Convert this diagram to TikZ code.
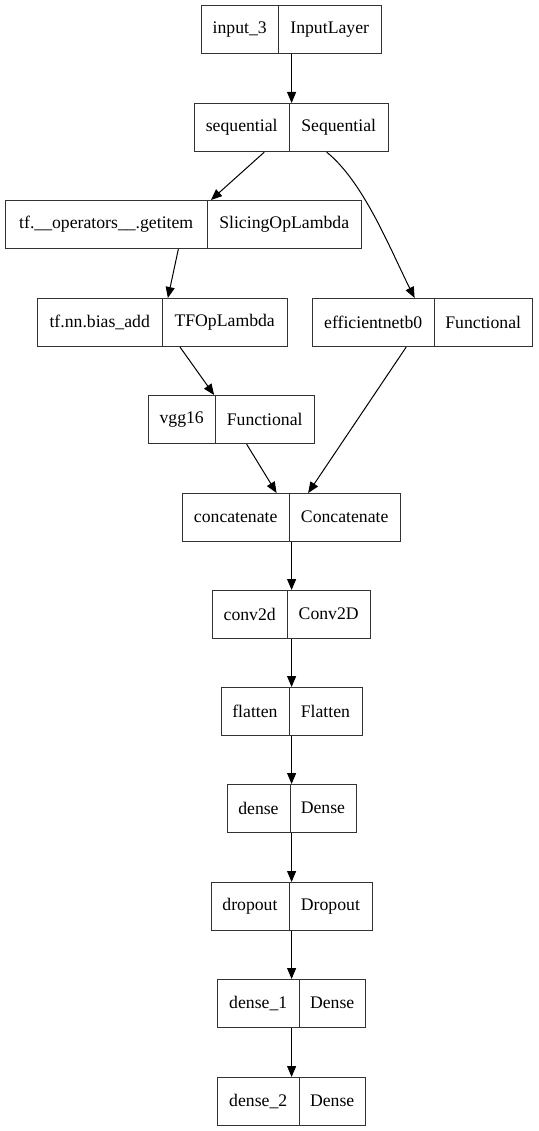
\documentclass[tikz,border=0pt]{standalone}
\usepackage{fontspec}
\setmainfont{Liberation Serif}
\usetikzlibrary{arrows.meta}

\begin{document}
\begin{tikzpicture}[
        x=1pt, y=-1pt,
        layer/.style={draw=black!80, line width=1.2pt, inner sep=0pt, minimum height=48pt, anchor=north west},
        cell/.style={inner sep=0pt, minimum height=48pt, anchor=north west, font=\fontsize{17.7}{20}\selectfont},
        arrow/.style={-{Triangle[length=11pt,width=9pt]}, line width=1pt}
    ]
        \useasboundingbox (0,0) rectangle (538,1131);

        % Layers: name / left / divider / right / top / layer name / class
        \foreach \n/\xa/\xb/\xc/\y/\ta/\tb in {
            inp/201/278/381/5/input\_3/InputLayer,
            seq/194/289/388/103/sequential/Sequential,
            get/5/207/361/200/tf.\_\_operators\_\_.getitem/SlicingOpLambda,
            bias/37/162/287/298/tf.nn.bias\_add/TFOpLambda,
            eff/312/434/532/298/efficientnetb0/Functional,
            vgg/148/215/314/395/vgg16/Functional,
            cat/182/289/400/493/concatenate/Concatenate,
            conv/212/287/370/590/conv2d/Conv2D,
            flat/220.5/289/361.5/687/flatten/Flatten,
            dense/226.5/290/355.5/784/dense/Dense,
            drop/210.5/289/371.5/882/dropout/Dropout,
            d1/217/299/365/979/dense\_1/Dense,
            d2/217/299/365/1077/dense\_2/Dense}
        {
            \node[layer, minimum width={(\xc-\xa)*1pt}] (\n) at (\xa,\y) {};
            \node[cell, minimum width={(\xb-\xa)*1pt}] (\n-a) at (\xa,\y) {\ta};
            \node[cell, minimum width={(\xc-\xb)*1pt}] (\n-b) at (\xb,\y) {\tb};
            \draw[draw=black!80, line width=1.2pt] (\n-a.north east) -- (\n-a.south east);
        }

        % Connections
        \draw[arrow] (inp) -- (seq);
        \draw[arrow] (seq) -- (get);
        \draw[arrow] (seq.-35) .. controls +(37,30) and +(-25,-50) .. (eff.108);
        \draw[arrow] (get) -- (bias);
        \draw[arrow] (bias) -- (vgg);
        \draw[arrow] (vgg) -- (cat);
        \draw[arrow] (eff) -- (cat);
        \foreach \a/\b in {cat/conv, conv/flat, flat/dense, dense/drop, drop/d1, d1/d2}
            \draw[arrow] (\a) -- (\b);

    \end{tikzpicture}
\end{document}
